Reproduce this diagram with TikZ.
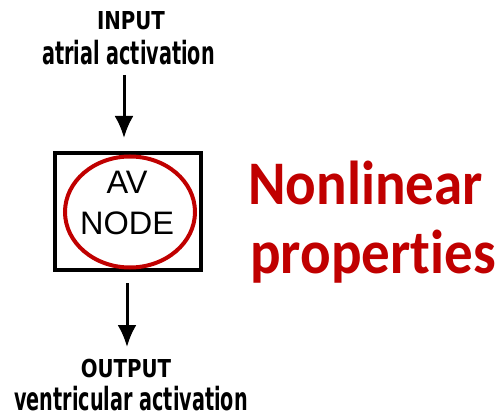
\documentclass[tikz,border=0pt]{standalone}
\usepackage{fontspec}
\usetikzlibrary{arrows.meta,shapes.geometric}
\newfontfamily\capfont[FakeStretch=0.8]{DejaVu Sans}
\newfontfamily\lowfont[FakeStretch=0.6]{DejaVu Sans}
\newfontfamily\avfont{Liberation Sans}
\newfontfamily\redfont[FakeStretch=0.92,Ligatures=NoCommon]{Carlito}
\definecolor{avred}{HTML}{C00000}
\tikzset{ lbl/.style = { inner sep = 0pt % io caption
        , anchor = base
        , font = \capfont\bfseries\fontsize{24.7}{24.7}\selectfont
        }
        , sublbl/.style = { inner sep = 0pt % io sub caption
        , anchor = base
        , font = \lowfont\bfseries\fontsize{32}{32}\selectfont
        }
        , blk/.style = { rectangle % block
        , draw
        , line width = 4pt
        , minimum width = 146pt
        , minimum height = 117pt
        }
        }
\begin{document}
\begin{tikzpicture}[x=1pt, y=-1pt,
        av_style/.style={ellipse,draw=avred,line width=4pt,minimum width=130pt,minimum height=111pt,inner sep=0pt},
        av_text/.style={anchor=base,inner sep=0pt,font=\avfont\fontsize{32.5}{32.5}\selectfont},
        red_style/.style={anchor=base west,inner sep=0pt,text=avred,font=\redfont\bfseries\fontsize{62}{62}\selectfont},
        arrow_style/.style={draw=black, line width=3pt, -{Latex[length=22pt,width=19pt]}}]
        \useasboundingbox (0,0) rectangle (502,419);

        \node [lbl](in1) at (131,30) {INPUT};
        \node [sublbl](in2) at (128.5,65) {atrial activation};
        \node [blk](box) at (128,211.5) {};
        \node [av_style](av) at (130,212) {};
        \node [av_text](av1) at (127,194) {AV};
        \node [av_text](av2) at (127,234) {NODE};
        \node [lbl](out1) at (126,377) {OUTPUT};
        \node [sublbl](out2) at (131,410) {ventricular activation};
        \node [red_style](nl1) at (248,205) {Nonlinear};
        \node [red_style](nl2) at (250,273) {properties};

        \coordinate (t1) at (124,75);
        \coordinate (b2) at (127,347);
        \draw [arrow_style, shorten >=13pt] (t1) -- (t1 |- box.north);
        \draw [arrow_style, shorten <=11pt] (b2 |- box.south) -- (b2);
\end{tikzpicture}
\end{document}
